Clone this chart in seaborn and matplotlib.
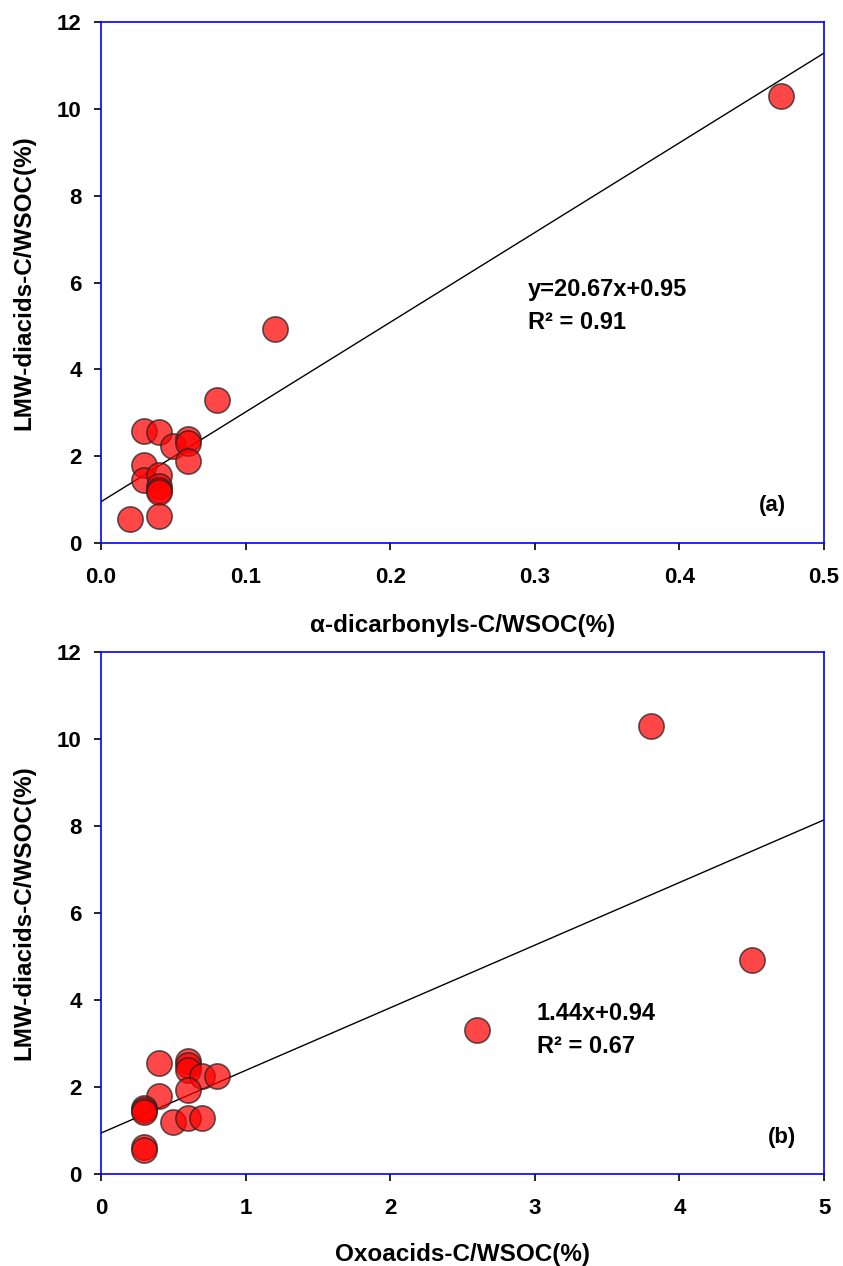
import matplotlib
matplotlib.use("Agg")
import matplotlib.pyplot as plt
import numpy as np
import seaborn as sns

# panel (a): alpha-dicarbonyls vs LMW diacids
dicarb_x = [0.03, 0.04, 0.05, 0.06, 0.06, 0.06, 0.03, 0.03, 0.04, 0.04, 0.04, 0.04,
            0.02, 0.04, 0.08, 0.12, 0.47]
dicarb_y = [2.57, 2.55, 2.23, 2.40, 2.30, 1.89, 1.80, 1.45, 1.57, 1.31, 1.22, 1.18,
            0.55, 0.62, 3.30, 4.92, 10.30]

# panel (b): oxoacids vs LMW diacids
oxo_x = [0.4, 0.6, 0.6, 0.6, 0.7, 0.8, 0.6, 0.4, 0.3, 0.3, 0.3, 0.5, 0.6, 0.7,
         0.3, 0.3, 2.6, 3.8, 4.5]
oxo_y = [2.55, 2.60, 2.50, 2.38, 2.25, 2.25, 1.93, 1.80, 1.52, 1.47, 1.42, 1.20,
         1.28, 1.28, 0.62, 0.55, 3.30, 10.30, 4.92]

fit_a = (20.67, 0.95)
fit_b = (1.44, 0.94)

sns.set_theme(style="white")
plt.rcParams['font.family'] = ['Liberation Sans', 'DejaVu Sans']
plt.rcParams['font.weight'] = 'bold'
plt.rcParams['text.color'] = 'black'
plt.rcParams['axes.labelcolor'] = 'black'
plt.rcParams['xtick.color'] = 'black'
plt.rcParams['ytick.color'] = 'black'

fig = plt.figure(figsize=(8.43, 12.66), dpi=100)
ax1 = fig.add_axes([0.1198, 0.5711, 0.8577, 0.4115])
ax2 = fig.add_axes([0.1198, 0.0727, 0.8577, 0.4123])


def style_ax(ax, xmax, xticks, xlabels, xlabel, xlab_y):
    ax.set_xlim(0, xmax)
    ax.set_ylim(0, 12)
    ax.set_xticks(xticks)
    ax.set_xticklabels(xlabels)
    ax.set_yticks(range(0, 13, 2))
    for s in ax.spines.values():
        s.set_color("blue")
        s.set_linewidth(1.2)
    ax.tick_params(axis="both", which="major", direction="out", length=5,
                   width=1.2, color="black", labelcolor="black", labelsize=16,
                   bottom=True, left=True, top=False, right=False)
    ax.tick_params(axis="x", pad=12)
    ax.tick_params(axis="y", pad=9)
    for lab in ax.get_xticklabels() + ax.get_yticklabels():
        lab.set_fontweight("bold")
    ax.set_ylabel("LMW-diacids-C/WSOC(%)", fontsize=17.5, fontweight="bold", va="center")
    ax.yaxis.set_label_coords(-0.1065, 0.5)
    ax.set_xlabel(xlabel, fontsize=17.5, fontweight="bold", va="center")
    ax.xaxis.set_label_coords(0.50, xlab_y)


def draw_panel(ax, x, y, fit, xmax):
    xs = np.array([0, xmax])
    ax.plot(xs, fit[0] * xs + fit[1], color="black", lw=1, zorder=1)
    sns.scatterplot(x=x, y=y, ax=ax, s=330, color="#ff0000", alpha=0.72,
                    edgecolor="#222222", linewidth=1.2, zorder=3, legend=False)


draw_panel(ax1, dicarb_x, dicarb_y, fit_a, 0.5)
style_ax(ax1, 0.5, [0, 0.1, 0.2, 0.3, 0.4, 0.5], ["0.0", "0.1", "0.2", "0.3", "0.4", "0.5"],
         "α-dicarbonyls-C/WSOC(%)", -0.159)
ax1.text(0.295, 5.83, "y=20.67x+0.95", fontsize=17, fontweight="bold", va="center")
ax1.text(0.295, 5.09, "R² = 0.91", fontsize=17, fontweight="bold", va="center")
ax1.text(0.464, 0.875, "(a)", fontsize=16, fontweight="bold", va="center", ha="center")

draw_panel(ax2, oxo_x, oxo_y, fit_b, 5)
style_ax(ax2, 5, [0, 1, 2, 3, 4, 5], ["0", "1", "2", "3", "4", "5"],
         "Oxoacids-C/WSOC(%)", -0.155)
ax2.text(3.015, 3.70, "1.44x+0.94", fontsize=17, fontweight="bold", va="center")
ax2.text(3.015, 2.94, "R² = 0.67", fontsize=17, fontweight="bold", va="center")
ax2.text(4.71, 0.83, "(b)", fontsize=16, fontweight="bold", va="center", ha="center")

fig.savefig("out.png", dpi=100)
